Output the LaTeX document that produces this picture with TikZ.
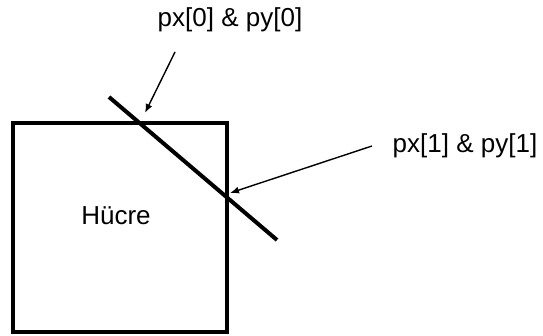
\documentclass[tikz,border=0pt]{standalone}
\usepackage{fontspec}
\setmainfont{Liberation Sans}
\usetikzlibrary{arrows.meta, positioning, calc}
\tikzset{
  cellbox/.style = {rectangle, draw=black, line width=4pt, line join=miter,
                    minimum width=214pt, minimum height=209pt, inner sep=0pt},
  cutline/.style = {draw=black, line width=4pt},
  lbl/.style     = {inner sep=0pt, font=\fontsize{26}{30}\selectfont},
  arrow/.style   = {-{Latex[length=9pt, width=7pt]}, line width=1.4pt, color=black},
}

\begin{document}
\begin{tikzpicture}[x=1pt, y=-1pt]
  \useasboundingbox (0,0) rectangle (543,336);

  % ---- Cell ----
  \node[cellbox] (cell) at (120,227.5) {};
  \node[lbl] (celltext) at (116,215.5) {Hücre};

  % ---- Cutting segment ----
  \coordinate (segA) at (109,97);
  \coordinate (segB) at (277,240);
  \draw[cutline] (segA) -- (segB);

  % ---- Point labels ----
  \node[lbl] (p0) at (230,19.5)  {px[0] \& py[0]};
  \node[lbl] (p1) at (465,145.5) {px[1] \& py[1]};

  % ---- Arrows to the crossings ----
  \coordinate (from0) at (175,52);
  \coordinate (tip0)  at (145,113);
  \coordinate (from1) at (372,146);
  \coordinate (tip1)  at (230,193);
  \draw[arrow] (from0) -- (tip0);
  \draw[arrow] (from1) -- (tip1);

\end{tikzpicture}
\end{document}
